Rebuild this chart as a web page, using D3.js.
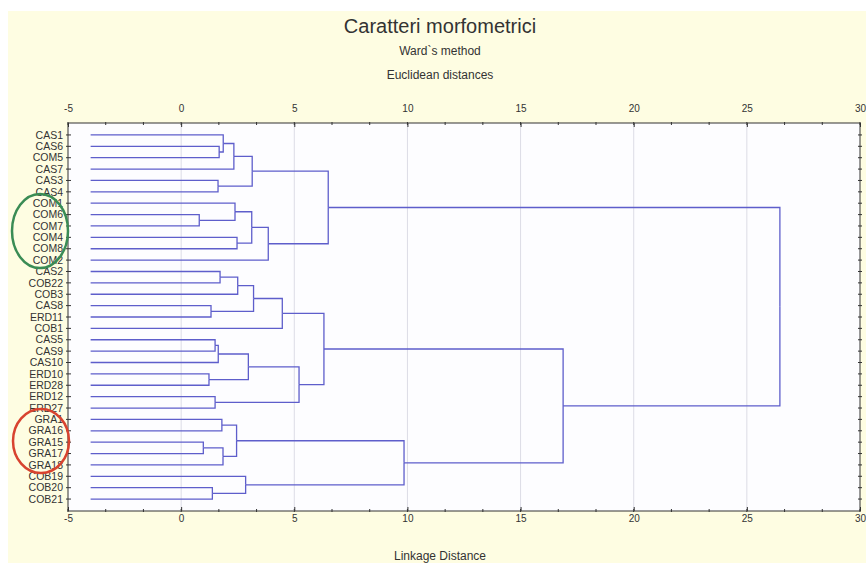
<!DOCTYPE html>
<html>
<head>
<meta charset="utf-8">
<script src="https://cdn.jsdelivr.net/npm/d3@7"></script>
<style>
  body { margin: 0; background: #fff; }
  svg text { font-family: "Liberation Sans", Arial, sans-serif; fill: #333; }
  .link { fill: none; stroke: #5e5ecb; stroke-width: 1.3; }
  .grid line { stroke: #dcdce6; stroke-width: 1; }
  .frame { fill: #fdfdff; stroke: #333; stroke-width: 1; }
  .tick-mark { stroke: #333; stroke-width: 1; }
</style>
</head>
<body>
<svg width="866" height="563"></svg>
<script>
// leaves, top to bottom
var leaves = ['CAS1', 'CAS6', 'COM5', 'CAS7', 'CAS3', 'CAS4',
  'COM1', 'COM6', 'COM7', 'COM4', 'COM8', 'COM2',
  'CAS2', 'COB22', 'COB3', 'CAS8', 'ERD11', 'COB1',
  'CAS5', 'CAS9', 'CAS10', 'ERD10', 'ERD28', 'ERD12', 'ERD27',
  'GRA1', 'GRA16', 'GRA15', 'GRA17', 'GRA18',
  'COB19', 'COB20', 'COB21'];

// merges m1..m32 : [left, right, linkage distance]
var merges = [
  ['CAS6', 'COM5', 1.68],
  ['CAS1', 'm1', 1.86],
  ['m2', 'CAS7', 2.33],
  ['CAS3', 'CAS4', 1.63],
  ['m3', 'm4', 3.14],
  ['COM6', 'COM7', 0.8],
  ['COM1', 'm6', 2.38],
  ['COM4', 'COM8', 2.47],
  ['m7', 'm8', 3.12],
  ['m9', 'COM2', 3.85],
  ['m5', 'm10', 6.5],
  ['CAS2', 'COB22', 1.72],
  ['m12', 'COB3', 2.5],
  ['CAS8', 'ERD11', 1.32],
  ['m13', 'm14', 3.2],
  ['m15', 'COB1', 4.47],
  ['CAS5', 'CAS9', 1.5],
  ['m17', 'CAS10', 1.64],
  ['ERD10', 'ERD28', 1.23],
  ['m18', 'm19', 2.97],
  ['ERD12', 'ERD27', 1.5],
  ['m20', 'm21', 5.21],
  ['m16', 'm22', 6.31],
  ['GRA1', 'GRA16', 1.8],
  ['GRA15', 'GRA17', 0.98],
  ['m25', 'GRA18', 1.85],
  ['m24', 'm26', 2.45],
  ['COB20', 'COB21', 1.38],
  ['COB19', 'm28', 2.85],
  ['m27', 'm29', 9.85],
  ['m23', 'm30', 16.88],
  ['m11', 'm31', 26.46]
];

var xTicks = [-5, 0, 5, 10, 15, 20, 25, 30];
var leafBase = -4;   // where the leaf lines start

var svg = d3.select('svg');
var pLeft = 68, pRight = 860, pTop = 123, pBottom = 511;

// backgrounds
svg.append('rect').attr('width', 866).attr('height', 563).attr('fill', '#fff');
svg.append('rect').attr('x', 8).attr('y', 11).attr('width', 858).attr('height', 552).attr('fill', '#fefde2');

var x = d3.scaleLinear().domain([-5, 30]).range([pLeft, pRight]);
var y = d3.scalePoint().domain(leaves).range([pTop, pBottom]).padding(1.05);

svg.append('rect').classed('frame', true)
  .attr('x', pLeft).attr('y', pTop)
  .attr('width', pRight - pLeft).attr('height', pBottom - pTop);

// grid
svg.append('g').classed('grid', true)
  .selectAll('line')
  .data(xTicks.slice(1, -1))
  .enter()
  .append('line')
  .attr('x1', function(d) { return x(d); })
  .attr('x2', function(d) { return x(d); })
  .attr('y1', pTop).attr('y2', pBottom);

// build the tree
var nodes = {};
leaves.forEach(function(n) { nodes[n] = { name: n, height: leafBase }; });
merges.forEach(function(m, i) {
  nodes['m' + (i + 1)] = { name: 'm' + (i + 1), height: m[2], children: [nodes[m[0]], nodes[m[1]]] };
});
var root = d3.hierarchy(nodes['m' + merges.length]);

root.eachAfter(function(d) {
  d.px = x(d.data.height);
  d.py = d.children ? d3.mean(d.children, function(c) { return c.py; }) : y(d.data.name);
});

svg.append('g')
  .selectAll('path.link')
  .data(root.links())
  .enter()
  .append('path')
  .classed('link', true)
  .attr('d', function(d) {
    return 'M' + d.target.px + ',' + d.target.py +
      'H' + d.source.px + 'V' + d.source.py;
  });

// axes top and bottom
var fmt = function(d) { return String(d); };
var axisTop = d3.axisTop(x).tickValues(xTicks).tickFormat(fmt).tickSizeInner(-4).tickSizeOuter(0).tickPadding(11);
var axisBottom = d3.axisBottom(x).tickValues(xTicks).tickFormat(fmt).tickSizeInner(-4).tickSizeOuter(0).tickPadding(4);

[ [axisTop, pTop], [axisBottom, pBottom] ].forEach(function(a) {
  var g = svg.append('g').attr('transform', 'translate(0,' + a[1] + ')').call(a[0]);
  g.select('.domain').remove();
  g.selectAll('line').attr('stroke', '#333');
  g.selectAll('text').style('font-size', '10px').attr('fill', '#444')
    .style('font-family', '"Liberation Sans", Arial, sans-serif');
});

// minor ticks
var minor = d3.range(-5, 30.01, 5 / 3);
svg.append('g').selectAll('line')
  .data(minor.concat(minor))
  .enter()
  .append('line')
  .classed('tick-mark', true)
  .attr('x1', function(d) { return x(d); })
  .attr('x2', function(d) { return x(d); })
  .attr('y1', function(d, i) { return i < minor.length ? pTop - 1 : pBottom + 1; })
  .attr('y2', function(d, i) { return i < minor.length ? pTop + 2 : pBottom - 2; });

// leaf ticks on left and right frame
svg.append('g').selectAll('line')
  .data(leaves.concat(leaves))
  .enter()
  .append('line')
  .classed('tick-mark', true)
  .attr('x1', function(d, i) { return i < leaves.length ? pLeft - 2 : pRight - 2; })
  .attr('x2', function(d, i) { return i < leaves.length ? pLeft + 3 : pRight + 2; })
  .attr('y1', function(d) { return y(d); })
  .attr('y2', function(d) { return y(d); });

// leaf labels
svg.append('g').selectAll('text')
  .data(leaves)
  .enter()
  .append('text')
  .attr('x', pLeft - 5)
  .attr('y', function(d) { return y(d); })
  .attr('dy', '0.35em')
  .attr('text-anchor', 'end')
  .style('font-size', '10.5px')
  .text(function(d) { return d; });

// titles
var titles = [
  { t: 'Caratteri morfometrici', y: 33, s: 20 },
  { t: 'Ward`s method', y: 55, s: 12 },
  { t: 'Euclidean distances', y: 79, s: 12 },
  { t: 'Linkage Distance', y: 560, s: 12 }
];
svg.append('g').selectAll('text')
  .data(titles)
  .enter()
  .append('text')
  .attr('x', 440)
  .attr('y', function(d) { return d.y; })
  .attr('text-anchor', 'middle')
  .style('font-size', function(d) { return d.s + 'px'; })
  .text(function(d) { return d.t; });

// hand-drawn group marks
svg.append('ellipse').attr('cx', 40).attr('cy', 231).attr('rx', 28).attr('ry', 37)
  .attr('fill', 'none').attr('stroke', '#3a8c55').attr('stroke-width', 2.5);
svg.append('ellipse').attr('cx', 41).attr('cy', 441).attr('rx', 28).attr('ry', 32)
  .attr('fill', 'none').attr('stroke', '#d8432f').attr('stroke-width', 2.5);
</script>
</body>
</html>
